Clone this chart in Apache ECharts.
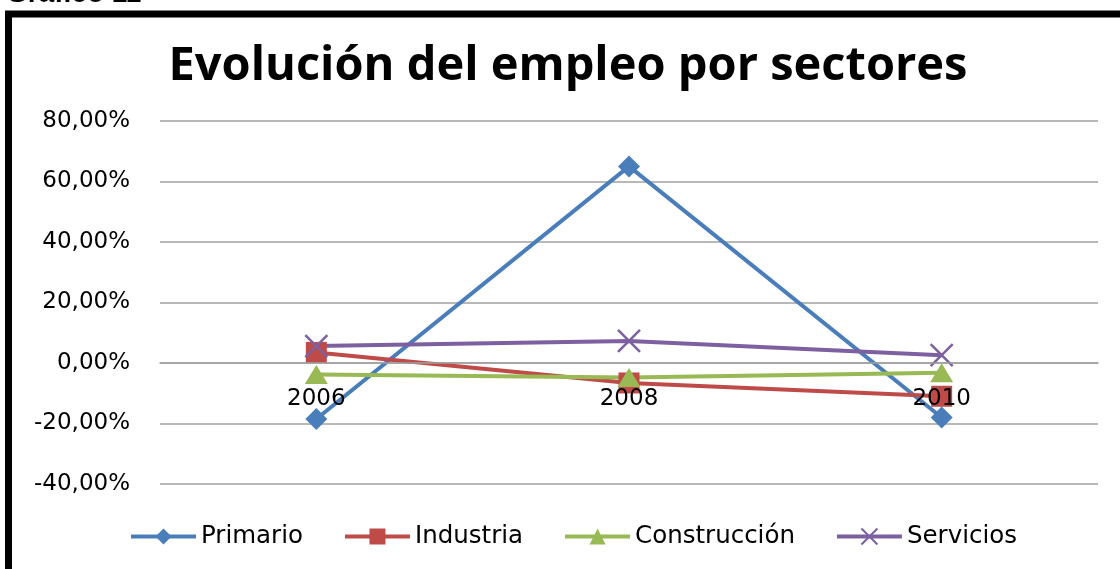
<!DOCTYPE html>
<html>
<head>
<meta charset="utf-8">
<script src="https://cdn.jsdelivr.net/npm/echarts@6/dist/echarts.min.js"></script>
<style>html,body{margin:0;padding:0;background:#fff;}#c{width:1120px;height:569px;}</style>
</head>
<body>
<div id="c"></div>
<script>
var categories = ['2006', '2008', '2010'];
var primario = [-18.5, 65, -18];
var industria = [3.5, -6.6, -11];
var construccion = [-3.8, -4.8, -3.2];
var servicios = [5.6, 7.3, 2.6];
var yTicks = { min: -40, max: 80, interval: 20 };

var chart = echarts.init(document.getElementById('c'), null, { renderer: 'canvas' });
function fmt(v) { return v.toFixed(2).replace('.', ',') + '%'; }
function mk(name, data, color, symbol, size) {
  return {
    name: name, type: 'line', data: data, symbol: symbol, symbolSize: size,
    lineStyle: { color: color, width: 4 }, itemStyle: { color: color },
    emphasis: { disabled: true }
  };
}
var gridTop = 121, gridBottom = 85, H = 569;
var plotH = H - gridTop - gridBottom;
var zeroOffset = -plotH * (0 - yTicks.min) / (yTicks.max - yTicks.min);
var option = {
  animation: false,
  backgroundColor: '#fff',
  title: {
    text: 'Evolución del empleo por sectores',
    left: 563, top: 38, textAlign: 'center',
    textStyle: { fontFamily: 'Open Sans', fontWeight: 'bold', fontSize: 47, color: '#000' }
  },
  graphic: [
    { type: 'rect', shape: { x: 8.5, y: 14, width: 1300, height: 800 },
      style: { fill: 'none', stroke: '#000', lineWidth: 7 } },
    { type: 'text', x: 6, y: -20,
      style: { text: 'Gráfico 11', font: 'bold 28px "Liberation Sans", Arial', fill: '#000' } }
  ],
  legend: {
    left: 124, top: 519, itemWidth: 65, itemHeight: 20, itemGap: 40,
    lineStyle: { width: 4 },
    textStyle: { fontFamily: 'DejaVu Sans', fontSize: 24.5, color: '#000' },
    data: ['Primario', 'Industria', 'Construcción', 'Servicios']
  },
  grid: { left: 160, right: 22, top: gridTop, bottom: gridBottom, containLabel: false },
  xAxis: {
    type: 'category', data: categories, boundaryGap: true,
    offset: zeroOffset, z: 5,
    axisLine: { onZero: false, lineStyle: { color: '#a0a0a0', width: 1.5 } },
    axisTick: { show: false },
    axisLabel: { margin: 25, fontFamily: 'DejaVu Sans', fontSize: 23, color: '#000' }
  },
  yAxis: {
    type: 'value', min: yTicks.min, max: yTicks.max, interval: yTicks.interval,
    axisLine: { show: false }, axisTick: { show: false },
    splitLine: { lineStyle: { color: '#a0a0a0', width: 1.5 } },
    axisLabel: { margin: 30, fontFamily: 'DejaVu Sans', fontSize: 23, color: '#000', formatter: fmt }
  },
  series: [
    mk('Primario', primario, '#4A7EBB', 'diamond', 22),
    mk('Industria', industria, '#BE4B48', 'rect', 21),
    mk('Construcción', construccion, '#98B954', 'triangle', [23, 19]),
    mk('Servicios', servicios, '#7D60A0', 'path://M0,0 L10,10 M10,0 L0,10', 22)
  ]
};
option.series[3].itemStyle = { color: 'none', borderColor: '#7D60A0', borderWidth: 2.5 };
chart.setOption(option);
</script>
</body>
</html>
